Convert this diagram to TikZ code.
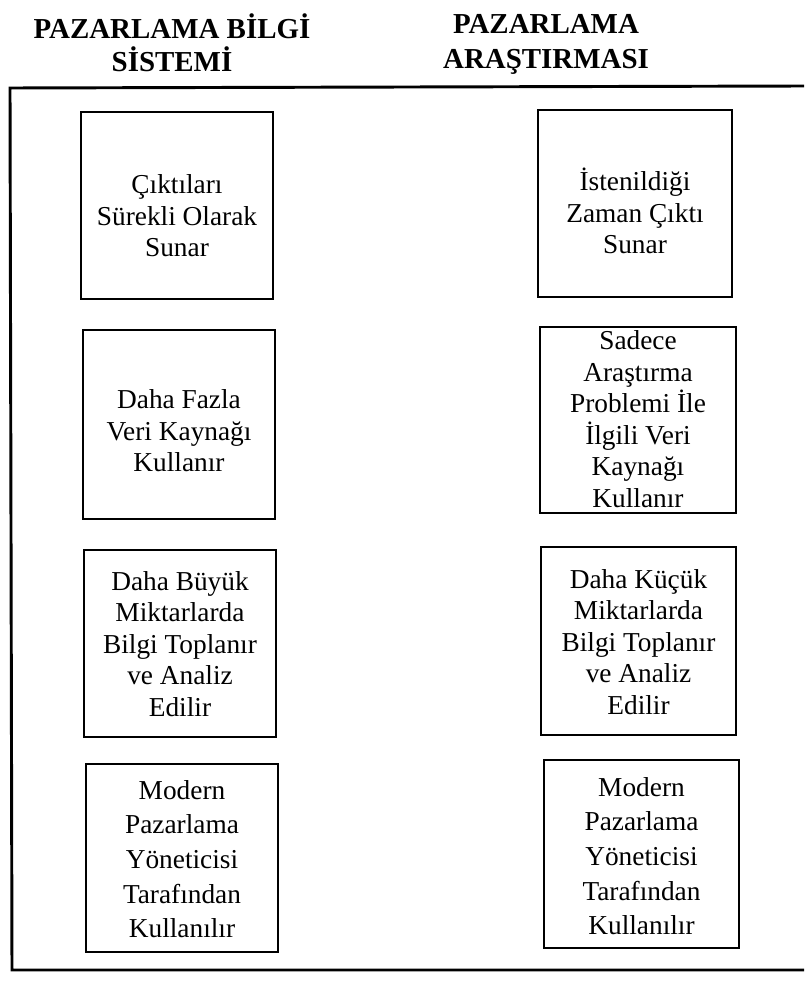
\documentclass[tikz,border=0pt]{standalone}
\usepackage{fontspec}
\setmainfont{Liberation Serif}
\begin{document}
\begin{tikzpicture}[x=0.75pt, y=-0.75pt,
  frameline/.style={line width=2.2pt},
  card/.style={draw, line width=1pt, inner sep=0pt},
  cardtext/.style={align=center, inner sep=0pt, font=\fontsize{20.5}{23.6}\selectfont},
  cardtextwide/.style={align=center, inner sep=0pt, font=\fontsize{20.5}{26}\selectfont},
  headtext/.style={align=center, inner sep=0pt, font=\bfseries\fontsize{21.7}{24.5}\selectfont},
  headtextwide/.style={align=center, inner sep=0pt, font=\bfseries\fontsize{21.7}{26.3}\selectfont}]
\useasboundingbox (0,0) rectangle (804,981);

% column headings
\node[headtext] (hl) at (172,43) {PAZARLAMA BİLGİ\\SİSTEMİ};
\node[headtextwide] (hr) at (546,44) {PAZARLAMA\\ARAŞTIRMASI};

% open frame: top, left and bottom rules
\coordinate (ftr) at (804,86);
\coordinate (ftl) at (10,88);
\coordinate (fbl) at (12,970);
\coordinate (fbr) at (804,970);
\draw[frameline] (ftr) -- (ftl) -- (fbl) -- (fbr);

% left column
\node[card, minimum width=144pt, minimum height=140.3pt] (l1) at (177,205.5) {};
\node[cardtext] (l1t) at (177,216) {Çıktıları\\Sürekli Olarak\\Sunar};
\node[card, minimum width=144pt, minimum height=141.8pt] (l2) at (179,424.5) {};
\node[cardtext] (l2t) at (179,431) {Daha Fazla\\Veri Kaynağı\\Kullanır};
\node[card, minimum width=144pt, minimum height=140.3pt] (l3) at (180,643.5) {};
\node[cardtext] (l3t) at (180,644) {Daha Büyük\\Miktarlarda\\Bilgi Toplanır\\ve Analiz\\Edilir};
\node[card, minimum width=144pt, minimum height=141pt] (l4) at (182,858) {};
\node[cardtextwide] (l4t) at (182,859) {Modern\\Pazarlama\\Yöneticisi\\Tarafından\\Kullanılır};

% right column
\node[card, minimum width=145.5pt, minimum height=140.3pt] (r1) at (635,203.5) {};
\node[cardtext] (r1t) at (635,211) {İstenildiği\\Zaman Çıktı\\Sunar};
\node[card, minimum width=147pt, minimum height=139.5pt] (r2) at (638,420) {};
\node[cardtext] (r2t) at (638,419) {Sadece\\Araştırma\\Problemi İle\\İlgili Veri\\Kaynağı\\Kullanır};
\node[card, minimum width=146.3pt, minimum height=141pt] (r3) at (638.5,641) {};
\node[cardtext] (r3t) at (638.5,642) {Daha Küçük\\Miktarlarda\\Bilgi Toplanır\\ve Analiz\\Edilir};
\node[card, minimum width=146.3pt, minimum height=141pt] (r4) at (641.5,854) {};
\node[cardtextwide] (r4t) at (641.5,856) {Modern\\Pazarlama\\Yöneticisi\\Tarafından\\Kullanılır};
\end{tikzpicture}
\end{document}
